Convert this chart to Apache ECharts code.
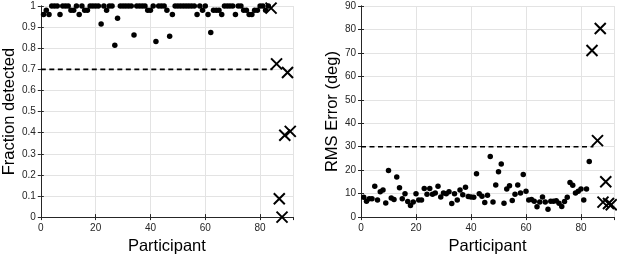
<!DOCTYPE html>
<html>
<head>
<meta charset="utf-8">
<script src="https://cdn.jsdelivr.net/npm/echarts@6/dist/echarts.min.js"></script>
<style>
  html, body { margin: 0; padding: 0; background: #fff; }
  #chart { width: 617px; height: 260px; }
</style>
</head>
<body>
<div id="chart"></div>
<script>
// participants kept in the study (1..83)
var participants = [];
for (var i = 1; i <= 83; i++) participants.push(i);

var fracDetected = [
    0.96, 0.98, 0.96, 1, 1, 1, 0.96, 1, 1, 1,
    0.98, 0.98, 1, 0.96, 1, 0.98, 0.98, 1, 1, 1,
    1, 0.915, 1, 0.98, 1, 1, 0.814, 0.942, 1, 1,
    1, 1, 1, 0.863, 1, 1, 1, 1, 0.98, 0.98,
    1, 0.832, 1, 1, 1, 0.98, 0.857, 0.96, 1, 1,
    1, 1, 1, 1, 1, 1, 0.96, 1, 0.98, 1,
    0.96, 0.875, 0.98, 0.98, 0.98, 0.96, 1, 1, 1, 1,
    0.96, 1, 1, 0.98, 0.98, 0.96, 0.96, 0.98, 0.98, 1,
    1, 0.98, 1
];

var rmsError = [
    8.5, 6.8, 7.8, 7.8, 13.1, 7.3, 10.8, 11.6, 6.0, 19.9,
    8.1, 7.5, 17.1, 12.5, 7.8, 10.0, 6.6, 4.9, 6.4, 10.0,
    7.3, 7.3, 12.2, 9.7, 12.2, 9.7, 10.3, 13.1, 8.6, 10.3,
    10.0, 10.8, 5.8, 10.0, 7.3, 11.6, 9.5, 12.7, 8.8, 8.6,
    8.5, 18.5, 10.0, 8.9, 6.2, 9.3, 25.8, 6.4, 13.7, 19.3,
    22.6, 5.9, 12.0, 13.4, 7.1, 9.7, 13.7, 10.3, 18.2, 11.0,
    7.3, 7.5, 6.8, 4.4, 6.4, 8.6, 6.4, 3.4, 6.8, 6.8,
    7.0, 5.9, 4.5, 6.7, 8.5, 14.8, 13.6, 10.3, 11.0, 12.0,
    7.3, 12.0, 23.7
];

// excluded participants (crosses)
var excluded = [84, 86, 87, 88, 89, 90, 91];
var exclFrac = [0.99, 0.726, 0.087, 0.0, 0.388, 0.685, 0.406];
var exclRms = [71.0, 32.6, 80.4, 6.4, 15.1, 5.8, 5.3];

var fracThreshold = 0.7;
var rmsThreshold = 30;
var thresholdEnd = 84.5;

function pairs(xs, ys) {
    return xs.map(function (x, k) { return [x, ys[k]]; });
}

var textColor = '#262626';
var font = 'Liberation Sans, Arial, Helvetica, sans-serif';
var crossPath = 'path://M0,0L10,10M10,0L0,10';

function xAxes(gi) {
    return [{
        gridIndex: gi, type: 'value', min: 0, max: 92, interval: 20,
        name: 'Participant', nameLocation: 'middle', nameGap: 23,
        nameTextStyle: { fontSize: 16.5, color: '#000', fontFamily: font, verticalAlign: 'middle' },
        axisLine: { show: true, lineStyle: { color: textColor, width: 1 } },
        axisTick: { show: true, inside: true, length: 3, lineStyle: { color: textColor } },
        axisLabel: {
            fontSize: 10, color: textColor, fontFamily: font, margin: 6, showMaxLabel: false,
            formatter: function (v) { return v % 20 === 0 ? String(v) : ''; }
        },
        splitLine: { show: true, lineStyle: { color: '#e3e3e3', width: 1 } }
    }, {
        gridIndex: gi, type: 'value', min: 0, max: 92, interval: 20, position: 'top',
        axisLine: { show: true, lineStyle: { color: textColor, width: 1 } },
        axisTick: { show: true, inside: true, length: 3, lineStyle: { color: textColor } },
        axisLabel: { show: false },
        splitLine: { show: false }
    }];
}

function yAxes(gi, max, interval, name, gap, fmt) {
    return [{
        gridIndex: gi, type: 'value', min: 0, max: max, interval: interval,
        name: name, nameLocation: 'middle', nameGap: gap, nameRotate: 90,
        nameTextStyle: { fontSize: 16.5, color: '#000', fontFamily: font },
        axisLine: { show: true, lineStyle: { color: textColor, width: 1 } },
        axisTick: { show: true, inside: true, length: 3, lineStyle: { color: textColor } },
        axisLabel: { fontSize: 10, color: textColor, fontFamily: font, margin: 5, formatter: fmt },
        splitLine: { show: true, lineStyle: { color: '#e3e3e3', width: 1 } }
    }, {
        gridIndex: gi, type: 'value', min: 0, max: max, interval: interval, position: 'right',
        axisLine: { show: true, lineStyle: { color: textColor, width: 1 } },
        axisTick: { show: true, inside: true, length: 3, lineStyle: { color: textColor } },
        axisLabel: { show: false },
        splitLine: { show: false }
    }];
}

var chart = echarts.init(document.getElementById('chart'));

var option = {
    animation: false,
    backgroundColor: '#fff',
    grid: [
        { left: 35, top: 6, width: 258, height: 219 },
        { left: 361, top: 6, width: 253, height: 219 }
    ],
    xAxis: xAxes(0).concat(xAxes(1)),
    yAxis: yAxes(0, 1, 0.1, 'Fraction detected', 14, function (v) {
        return (v === 0 || v === 1) ? String(v) : v.toFixed(1);
    }).concat(yAxes(1, 90, 10, 'RMS Error (deg)', 19, function (v) { return String(v); })),
    series: [
        {
            type: 'line', xAxisIndex: 0, yAxisIndex: 0, showSymbol: false, silent: true,
            data: [[0, fracThreshold], [thresholdEnd, fracThreshold]],
            lineStyle: { color: '#000', width: 1.7, type: [5, 3.5] }, z: 3
        },
        {
            type: 'scatter', xAxisIndex: 0, yAxisIndex: 0, symbol: 'circle', symbolSize: 5.5,
            data: pairs(participants, fracDetected),
            itemStyle: { color: '#000', opacity: 1 }, z: 4
        },
        {
            type: 'scatter', xAxisIndex: 0, yAxisIndex: 0, symbol: crossPath, symbolSize: 11,
            data: pairs(excluded, exclFrac),
            itemStyle: { color: 'rgba(0,0,0,0)', borderColor: '#000', borderWidth: 2, opacity: 1 }, z: 5
        },
        {
            type: 'line', xAxisIndex: 2, yAxisIndex: 2, showSymbol: false, silent: true,
            data: [[0, rmsThreshold], [thresholdEnd, rmsThreshold]],
            lineStyle: { color: '#000', width: 1.7, type: [5, 3.5] }, z: 3
        },
        {
            type: 'scatter', xAxisIndex: 2, yAxisIndex: 2, symbol: 'circle', symbolSize: 5.5,
            data: pairs(participants, rmsError),
            itemStyle: { color: '#000', opacity: 1 }, z: 4
        },
        {
            type: 'scatter', xAxisIndex: 2, yAxisIndex: 2, symbol: crossPath, symbolSize: 11,
            data: pairs(excluded, exclRms),
            itemStyle: { color: 'rgba(0,0,0,0)', borderColor: '#000', borderWidth: 2, opacity: 1 }, z: 5
        }
    ]
};

chart.setOption(option);
</script>
</body>
</html>
